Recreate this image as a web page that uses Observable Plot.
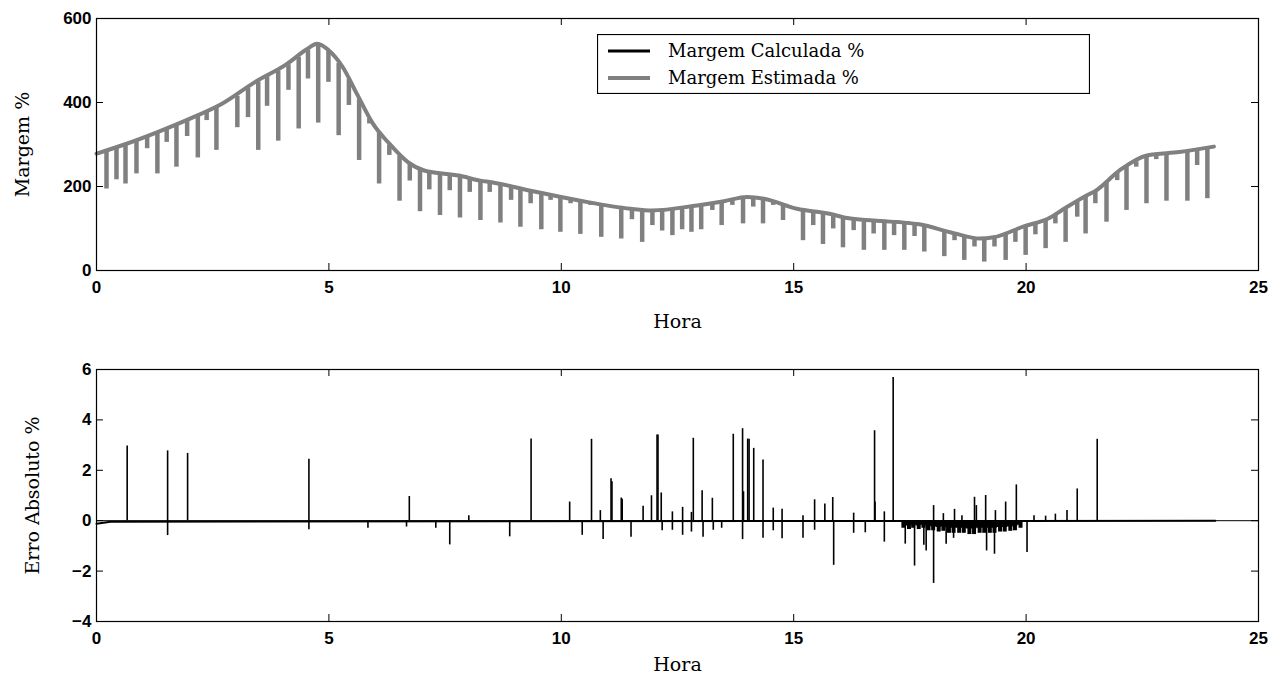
<!DOCTYPE html>
<html><head><meta charset="utf-8">
<script src="https://cdn.jsdelivr.net/npm/d3@7"></script>
<script src="https://cdn.jsdelivr.net/npm/@observablehq/plot@0.6"></script>
<style>
body{margin:0;background:#fff;}
#wrap{position:relative;width:1282px;height:683px;}
#wrap svg{display:block;}
#legend{position:absolute;left:597px;top:34px;}
</style></head><body>
<div id="wrap"></div>
<script>
// ---------- Top chart: Margem % ----------
const baseHour  = [0,0.6,1.3,2.0,2.7,3.4,4.1,4.5,4.75,5.0,5.3,5.6,5.95,6.3,6.7,7.05,7.8,8.26,8.5,9.34,10.41,11.49,11.95,12.92,13.5,14.0,14.36,15.07,15.77,16.15,16.72,17.7,18.44,19.0,19.3,19.95,20.5,20.76,21.31,21.5,22.03,22.6,23.3,24.04];
const baseValue = [278,300,329,361,397,448,492,525,540,524,484,421,349,302,258,238,226,214,210,190,166,147,143,155,165,175,171,147,135,125,119,110,89,76,79,105,125,143,179,190,240,274,282,295];

const spikeHour   = [0.215,0.43,0.624,0.86,1.09,1.31,1.51,1.72,1.95,2.18,2.37,2.58,3.03,3.26,3.48,3.67,3.91,4.13,4.35,4.55,4.77,4.99,5.21,5.43,5.65,5.87,6.08,6.30,6.52,6.74,6.96,7.16,7.39,7.60,7.82,8.03,8.26,8.46,8.69,8.92,9.12,9.34,9.57,9.77,9.98,10.2,10.41,10.63,10.86,11.29,11.52,11.74,11.96,12.17,12.39,12.6,12.8,13.01,13.25,13.45,13.68,13.91,14.13,14.34,14.56,14.77,15.2,15.42,15.63,15.85,16.06,16.29,16.51,16.72,16.95,17.16,17.38,17.6,17.81,18.24,18.46,18.67,18.89,19.1,19.32,19.56,19.77,19.99,20.2,20.42,20.63,20.85,21.1,21.28,21.49,21.73,21.96,22.16,22.37,22.59,22.8,23.02,23.47,23.68,23.9];
const spikeTop    = [282,290,298,307,317,326,335,344,355,367,377,388,415,434,449,462,475,490,508,524,535,522,493,455,408,361,330,299,273,253,239,232,228,226,223,217,211,207,203,198,194,187,182,177,172,167,163,159,155,147,144,142,140,142,145,147,150,153,157,161,166,171,172,168,162,155,142,138,134,130,124,120,118,116,114,112,110,108,105,92,85,80,75,73,77,85,94,103,112,121,132,145,162,175,187,209,233,247,259,269,274,276,281,284,288];
const spikeBottom = [194,216,206,230,290,230,305,246,319,268,357,286,340,364,286,391,308,429,337,456,351,448,321,393,262,349,206,274,165,213,140,192,131,190,125,186,119,186,113,167,103,159,97,167,91,159,86,155,79,75,121,67,107,94,83,97,91,97,143,107,155,111,151,111,155,119,71,107,62,99,54,95,48,87,48,83,48,81,44,33,71,24,56,20,56,24,67,36,85,52,111,67,127,87,159,115,214,143,246,159,264,165,165,250,171];

// ---------- Bottom chart: Erro Absoluto % ----------
const errHour  = [0.66,1.53,1.53,1.96,4.57,4.57,5.84,6.67,6.73,7.3,7.6,8.01,8.89,9.35,10.18,10.45,10.65,10.84,10.9,11.07,11.09,11.29,11.31,11.5,11.76,11.94,12.06,12.08,12.15,12.17,12.39,12.39,12.61,12.61,12.8,12.8,12.84,13.03,13.05,13.25,13.27,13.45,13.7,13.9,13.9,13.92,14.01,14.04,14.14,14.34,14.34,14.56,14.56,14.75,14.75,15.2,15.2,15.45,15.45,15.67,15.84,15.86,16.29,16.29,16.54,16.74,16.75,16.95,16.95,17.14,17.4,17.6,17.8,17.85,18.01,18.01,18.22,18.28,18.44,18.46,18.62,18.89,18.93,19.13,19.15,19.32,19.34,19.56,19.79,20.02,20.17,20.42,20.63,20.88,21.1,21.53];
const errValue = [2.96,2.77,-0.59,2.67,2.44,-0.36,-0.3,-0.25,0.96,-0.3,-0.96,0.2,-0.64,3.24,0.74,-0.58,3.23,0.4,-0.75,1.66,1.55,0.9,0.85,-0.66,0.57,0.99,3.4,3.4,1.1,-0.4,0.35,-0.38,0.53,-0.58,0.33,-0.45,3.27,1.19,-0.66,0.89,-0.38,-0.3,3.43,3.65,-0.75,1.15,3.24,3.23,2.87,2.41,-0.7,0.5,-0.4,0.45,-0.72,-0.7,0.2,0.83,-0.38,0.66,0.92,-1.77,0.3,-0.5,-0.48,3.57,0.74,0.35,-0.85,5.68,-0.93,-1.8,-0.97,-1.2,-2.49,0.6,0.28,-0.93,-0.7,0.45,0.2,0.93,0.6,1.0,-1.2,-1.33,0.4,0.74,1.42,-1.26,0.2,0.18,0.26,0.4,1.26,3.23];
// comb of negative error notches between 17.4 h and 20 h
const bandHour  = [17.36,17.48,17.57,17.69,17.79,17.9,18.0,18.12,18.22,18.34,18.44,18.56,18.66,18.78,18.88,19.0,19.1,19.22,19.32,19.44,19.54,19.66,19.76,19.88];
const bandValue = [-0.3,-0.35,-0.3,-0.35,-0.3,-0.4,-0.4,-0.45,-0.42,-0.5,-0.5,-0.5,-0.5,-0.55,-0.55,-0.5,-0.5,-0.5,-0.5,-0.45,-0.45,-0.42,-0.4,-0.3];
const errLineHour  = [0,0.3,24.07];
const errLineValue = [-0.12,-0.04,0];

const xTicks = [0,5,10,15,20,25];
const yTicksTop = [0,200,400,600];
const yTicksBottom = [-4,-2,0,2,4,6];
const legendLabels = ["Margem Calculada %","Margem Estimada %"];

const GRAY = "#808080";
const serif = "DejaVu Serif";
const PW = 1162, PH = 252, TICK = 7;

const base = baseHour.map((h,i)=>({h, v: baseValue[i]}));
const spikes = spikeHour.map((h,i)=>({h, top: spikeTop[i], bot: spikeBottom[i]}));
const errs = errHour.map((h,i)=>({h, v: errValue[i]}));
const band = bandHour.map((h,i)=>({h, v: bandValue[i]}));
const errLine = errLineHour.map((h,i)=>({h, v: errLineValue[i]}));

function axes(yt){
  return [
    // inward tick marks on all four sides
    Plot.ruleX(xTicks, {x:d=>d, insetTop: PH - TICK, stroke:"black", strokeWidth:1}),
    Plot.ruleX(xTicks, {x:d=>d, insetBottom: PH - TICK, stroke:"black", strokeWidth:1}),
    Plot.ruleY(yt, {y:d=>d, insetRight: PW - TICK, stroke:"black", strokeWidth:1}),
    Plot.ruleY(yt, {y:d=>d, insetLeft: PW - TICK, stroke:"black", strokeWidth:1}),
    Plot.axisX(xTicks, {anchor:"bottom", tickSize:0, tickPadding:10, label:null}),
    Plot.axisY(yt, {anchor:"left", tickSize:0, tickPadding:5, label:null})
  ];
}
const style = {fontFamily:"Liberation Sans, Arial, sans-serif", fontSize:"17px", fontWeight:"bold", background:"white", color:"black"};

const chartTop = Plot.plot({
  width:1282, height:340,
  marginLeft:96, marginRight:24, marginTop:18, marginBottom:70,
  style,
  x:{domain:[0,25]},
  y:{domain:[0,600]},
  marks:[
    Plot.line(base, {x:"h", y:"v", stroke:"black", strokeWidth:2.5, curve:"monotone-x"}),
    Plot.ruleX(spikes, {x:"h", y1:"top", y2:"bot", stroke:GRAY, strokeWidth:4.5}),
    Plot.line(base, {x:"h", y:"v", stroke:GRAY, strokeWidth:4, curve:"monotone-x"}),
    ...axes(yTicksTop),
    Plot.frame({stroke:"black", strokeWidth:1.2}),
    Plot.text(["Hora"], {text:d=>d, frameAnchor:"bottom", dy:51, fontFamily:serif, fontWeight:"normal", fontSize:19, lineAnchor:"middle"}),
    Plot.text(["Margem %"], {text:d=>d, frameAnchor:"left", dx:-74, rotate:-90, textAnchor:"middle", fontFamily:serif, fontWeight:"normal", fontSize:19})
  ]
});

const chartBottom = Plot.plot({
  width:1282, height:343,
  marginLeft:96, marginRight:24, marginTop:29, marginBottom:62,
  style,
  x:{domain:[0,25]},
  y:{domain:[-4,6]},
  marks:[
    Plot.ruleY([0], {stroke:"black", strokeWidth:1}),
    Plot.ruleX(band, {x:"h", y1:0, y2:"v", stroke:"black", strokeWidth:4}),
    Plot.areaY(band, {x:"h", y1:0, y2:d=>d.v*0.6, curve:"step", fill:"black"}),
    Plot.line(errLine, {x:"h", y:"v", stroke:"black", strokeWidth:2}),
    Plot.ruleX(errs, {x:"h", y1:0, y2:"v", stroke:"black", strokeWidth:1.6}),
    ...axes(yTicksBottom),
    Plot.frame({stroke:"black", strokeWidth:1.2}),
    Plot.text(["Hora"], {text:d=>d, frameAnchor:"bottom", dy:43, fontFamily:serif, fontWeight:"normal", fontSize:19, lineAnchor:"middle"}),
    Plot.text(["Erro Absoluto %"], {text:d=>d, frameAnchor:"left", dx:-64, rotate:-90, textAnchor:"middle", fontFamily:serif, fontWeight:"normal", fontSize:19})
  ]
});

const wrap = document.getElementById("wrap");
wrap.appendChild(chartTop);
wrap.appendChild(chartBottom);

// legend (inside the top axes)
const ns = "http://www.w3.org/2000/svg";
const leg = document.createElementNS(ns, "svg");
leg.setAttribute("id","legend");
leg.setAttribute("width","493");
leg.setAttribute("height","60");
leg.innerHTML = `<rect x="0.5" y="0.5" width="492" height="59" fill="white" stroke="black" stroke-width="1.2"/>`;
const legColors = ["black", GRAY];
const legWidths = [3, 4];
legendLabels.forEach((lab,i)=>{
  const y = 17 + i*27;
  const ln = document.createElementNS(ns,"line");
  ln.setAttribute("x1",11); ln.setAttribute("x2",53);
  ln.setAttribute("y1",y); ln.setAttribute("y2",y);
  ln.setAttribute("stroke",legColors[i]); ln.setAttribute("stroke-width",legWidths[i]);
  leg.appendChild(ln);
  const t = document.createElementNS(ns,"text");
  t.setAttribute("x",71); t.setAttribute("y",y+6);
  t.setAttribute("font-family",serif); t.setAttribute("font-size","18");
  t.textContent = lab;
  leg.appendChild(t);
});
wrap.appendChild(leg);
</script>
</body></html>
